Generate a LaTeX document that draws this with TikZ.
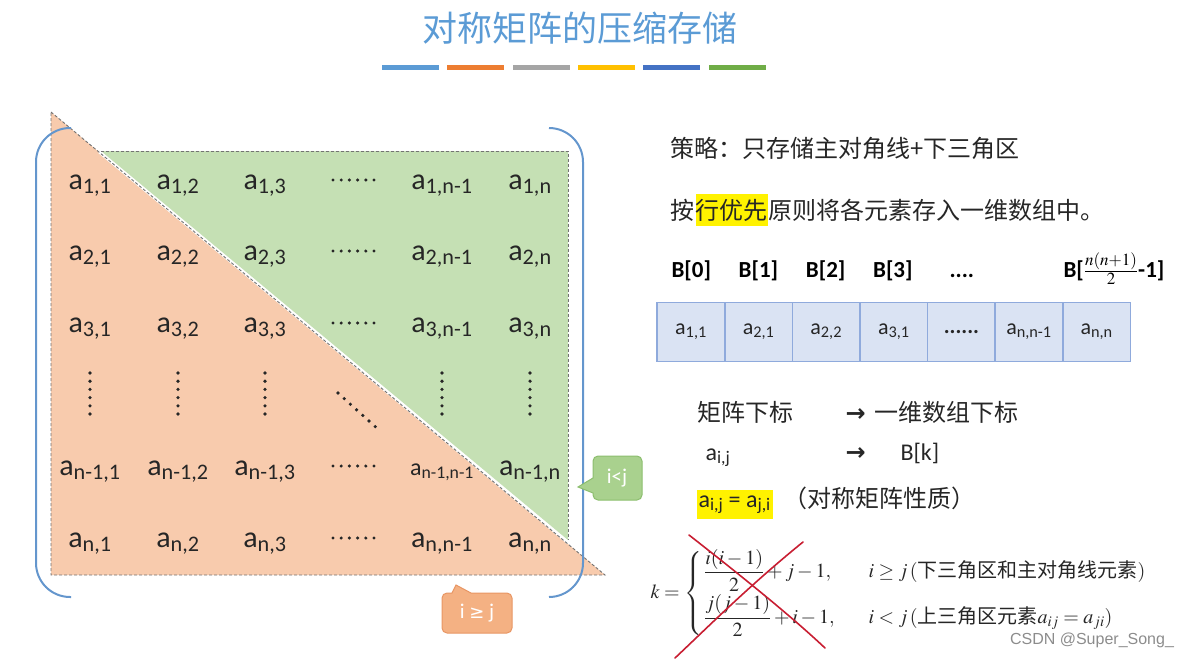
\documentclass[tikz,border=0pt]{standalone}
\usepackage{amsmath}
\usepackage{mathptmx}
\usepackage{bm}
\usepackage{fontspec}
\setmainfont{Carlito}
\newfontfamily\cjk{Noto Sans CJK SC}
\newfontfamily\sym{DejaVu Sans}
\newfontfamily\wmfont{Liberation Sans}
\usetikzlibrary{positioning}
\definecolor{titleblue}{RGB}{91,155,213}
\definecolor{barblue}{RGB}{91,155,213}
\definecolor{barorange}{RGB}{237,125,49}
\definecolor{bargray}{RGB}{165,165,165}
\definecolor{baryellow}{RGB}{255,192,0}
\definecolor{bardark}{RGB}{68,114,196}
\definecolor{bargreen}{RGB}{112,173,71}
\definecolor{lowfill}{RGB}{248,203,173}
\definecolor{upfill}{RGB}{197,224,180}
\definecolor{brk}{RGB}{100,150,205}
\definecolor{cellfill}{RGB}{218,227,243}
\definecolor{celledge}{RGB}{143,170,220}
\definecolor{tipgreen}{RGB}{169,209,142}
\definecolor{tipgreenedge}{RGB}{140,190,110}
\definecolor{tiporange}{RGB}{244,177,131}
\definecolor{tiporangeedge}{RGB}{232,150,100}
\definecolor{crossred}{RGB}{200,30,50}
\definecolor{ink}{RGB}{38,38,38}
\newcommand{\sub}[1]{\textsubscript{#1}}
\newcommand{\sixdots}{\textbf{......}}

\begin{document}
\begin{tikzpicture}[x=1pt,y=-1pt,line width=1pt,
  ent/.style={anchor=base,inner sep=0pt,text=ink,font=\fontsize{30}{30}\selectfont},
  txt/.style={anchor=base west,inner sep=0pt,text=ink,font=\cjk\fontsize{24}{24}\selectfont},
  lat/.style={anchor=base west,inner sep=0pt,text=ink,font=\fontsize{24}{24}\selectfont},
  arr/.style={anchor=base west,inner sep=0pt,text=ink,font=\sym\bfseries\fontsize{24}{24}\selectfont},
  blab/.style={anchor=base west,inner sep=0pt,text=black,font=\bfseries\fontsize{23}{23}\selectfont},
  hl/.style={fill=yellow,inner ysep=5pt,inner xsep=0pt},
  cell/.style={draw=celledge,fill=cellfill,line width=1.5pt,minimum width=67.6,minimum height=59,
    inner sep=0pt,text=ink,font=\fontsize{22}{22}\selectfont},
  edge/.style={draw=black!55,line width=0.9pt,dash pattern=on 3pt off 2pt},
  tiptxt/.style={text=white,inner sep=0pt,font=\fontsize{21}{21}\selectfont},
  cross/.style={crossred,line width=1.6pt,line cap=round}]
\useasboundingbox (0,0) rectangle (1188,659);
\def\dd{8.2} % dot spacing
% ---- title and colour bars ----
\node[font=\cjk\fontsize{35}{35}\selectfont,text=titleblue] (title) at (580,28) {对称矩阵的压缩存储};
\foreach \bc [count=\k from 0] in {barblue,barorange,bargray,baryellow,bardark,bargreen}
  \fill[\bc] ({382+\k*65.3},65) rectangle ++(57,5);
% ---- the two triangles ----
\fill[lowfill] (51,112) -- (605,575) -- (51,575) -- cycle;
\fill[upfill] (101,151) -- (568,151) -- (568,540) -- cycle;
\draw[white,line width=2.5pt] (99,152) -- (568,543);
\draw[edge] (51,112) -- (605,575) -- (51,575) -- cycle;
\draw[edge] (101,151) -- (568,151) -- (568,540);
% ---- matrix entries ----
\foreach \r/\ry/\ri in {1/189/1,2/260/2,3/332/3,5/475/n-1,6/547/n}{
  \foreach \c/\cx/\cj in {1/90/1,2/178/2,3/265/3,5/442/n-1,6/530/n}{
    \ifnum\r\c=55
      \node[ent,font=\fontsize{24}{24}\selectfont] (a\r\c) at (\cx,\ry) {a\sub{\ri,\cj}};
    \else
      \node[ent] (a\r\c) at (\cx,\ry) {a\sub{\ri,\cj}};
    \fi}
  \foreach \d in {0,...,5}
    \fill[ink] ({333+\d*\dd},{\ry-9}) circle (1.7);
}
% vertical and diagonal dots
\foreach \cx in {90,178,265,442,530}{
  \foreach \d in {0,...,5}
    \fill[ink] (\cx,{373+\d*\dd}) circle (1.8);}
\foreach \d in {0,...,6}
  \fill[ink] ({338+\d*6.2},{393+\d*5.6}) circle (1.8);
% ---- brackets ----
\draw[brk,line width=2pt,rounded corners=34pt] (71,128) -- (36,128) -- (36,597) -- (71,597);
\draw[brk,line width=2pt,rounded corners=34pt] (549,128) -- (583,128) -- (583,597) -- (549,597);
% ---- callouts ----
\draw[fill=tipgreen,draw=tipgreenedge] (578,487) -- (593,493) [rounded corners=5pt] -- (593,500)
  -- (642,500) -- (642,456) -- (593,456) [sharp corners] -- (593,478) -- cycle;
\node[tiptxt] (tipup) at (617,478) {i<j};
\draw[fill=tiporange,draw=tiporangeedge] (456,585) -- (471,593) [rounded corners=5pt] -- (512,593)
  -- (512,633) -- (442,633) -- (442,593) [sharp corners] -- (452,593) -- cycle;
\node[tiptxt] (tiplow) at (477,613) {i {\sym\fontsize{18}{18}\selectfont ≥} j};
% ---- strategy text ----
\node[txt] (rule) at (670,157) {策略：只存储主对角线+下三角区};
\node[txt] (ord1) at (670,219) {按};
\node[txt,hl] (ord2) at (ord1.base east) {行优先};
\node[txt] (ord3) at (ord2.base east) {原则将各元素存入一维数组中。};
% ---- array B ----
\foreach \t [count=\k from 0] in {B[0],B[1],B[2],B[3]}
  \node[blab] (bl\k) at ({671+\k*67.2},277) {\t};
\node[blab] (bldots) at (949,277) {....};
\node[blab] (bllast) at (1063,277) {B[$\bm{\frac{n(n+1)}{2}}$-1]};
\foreach \v [count=\k from 0] in {a\sub{1,1},a\sub{2,1},a\sub{2,2},a\sub{3,1},\sixdots,a\sub{n,n-1},a\sub{n,n}}
  \node[cell] (b\k) at ({691+\k*67.6},332) {\v};
% ---- index mapping ----
\node[txt] (map1) at (697,421) {矩阵下标};
\node[arr] (arr1) at (845,421) {→};
\node[txt] (map2) at (874,421) {一维数组下标};
\node[lat] (aij) at (705,460) {a\sub{i,j}};
\node[arr] (arr2) at (845,460) {→};
\node[lat] (bk) at (900,460) {B[k]};
\node[lat,hl,inner xsep=2pt] (sym) at (696,507) {a\sub{i,j} = a\sub{j,i}};
\node[txt] (symtxt) at (783,507) {（对称矩阵性质）};
% ---- formula, crossed out ----
\node[anchor=west,inner sep=0pt,text=ink,font=\fontsize{20}{20}\selectfont] (kf) at (650,593)
  {$k=\left\{\begin{array}{@{\,}l@{\hspace{34pt}}l}
    \dfrac{i(i-1)}{2}+j-1, & i\geq j\,(\text{\cjk 下三角区和主对角线元素})\\[11pt]
    \dfrac{j(j-1)}{2}+i-1, & i<j\,(\text{\cjk 上三角区元素}a_{ij}=a_{ji})
  \end{array}\right.$};
\draw[cross] (689,535) .. controls (740,575) and (790,615) .. (825,648);
\draw[cross] (803,542) .. controls (750,585) and (710,625) .. (675,658);
\node[font=\wmfont\fontsize{16}{16}\selectfont,text=black!45] (wm) at (1092,640) {CSDN @Super\_Song\_};
\end{tikzpicture}
\end{document}
